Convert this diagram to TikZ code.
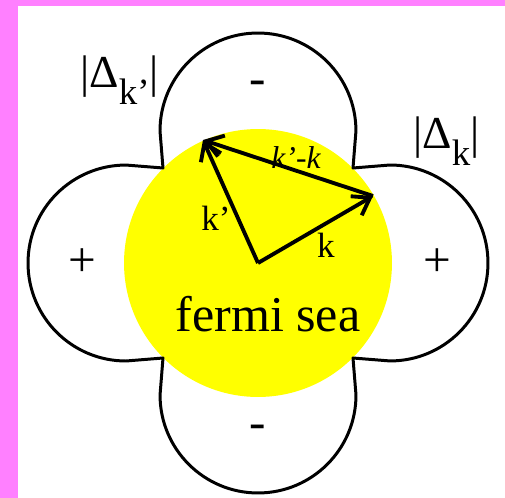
\documentclass[tikz,border=0pt]{standalone}
\usepackage{fontspec}
\setmainfont{Liberation Serif}
\usetikzlibrary{arrows.meta,positioning}
\definecolor{framepink}{RGB}{255,128,255}
\definecolor{seayellow}{RGB}{255,255,0}
\tikzset{
    % Order parameter lobes
    lobe/.style={
        draw=black,
        line width=1.7pt,
        line join=round
    },
    % Wave vectors
    vecarrow/.style={
        -{Straight Barb[length=3.2mm,width=4.4mm]},
        line width=2.2pt,
        line join=miter
    },
    % Labels
    signlabel/.style={
        font=\fontsize{28}{30}\selectfont,
        inner sep=0pt
    },
    gaplabel/.style={
        font=\fontsize{26}{28}\selectfont,
        inner sep=0pt,
        anchor=base west
    },
    veclabel/.style={
        font=\fontsize{20}{22}\selectfont,
        inner sep=0pt
    }
}
\newcommand{\gapsub}[1]{\raisebox{-10pt}{\fontsize{21}{22}\selectfont #1}}

\begin{document}
\begin{tikzpicture}[x=0.02cm,y=0.02cm]

    \useasboundingbox (-258,-235) rectangle (247,263);

    % Frame
    \fill[framepink] (-258,-235) rectangle (-240,263);
    \fill[framepink] (-258,257) rectangle (247,263);

    % Fermi sea
    \coordinate (O) at (0,0);
    \fill[seayellow] (O) circle[radius=2.68cm];

    % Lobes
    \draw[lobe] (-95,95) -- (-98,132) arc[start angle=180,end angle=0,radius=1.96cm]
        -- (95,95) -- (132,98) arc[start angle=90,end angle=-90,radius=1.96cm]
        -- (95,-95) -- (98,-132) arc[start angle=0,end angle=-180,radius=1.96cm]
        -- (-95,-95) -- (-132,-98) arc[start angle=270,end angle=90,radius=1.96cm]
        -- cycle;

    % Signs
    \node[signlabel] (plusL) at (-176,0) {+};
    \node[signlabel] (plusR) at (179,0) {+};
    \node[signlabel] (minusT) at (0,175) {-};
    \node[signlabel] (minusB) at (0,-169) {-};

    % Gap labels
    \node[gaplabel] (gapkp) at (-178,176) {|Δ\gapsub{k’}|};
    \node[gaplabel] (gapk) at (155,115) {|Δ\gapsub{k}|};

    % Vectors
    \coordinate (K) at (115,67);
    \coordinate (Kp) at (-55,123);
    \draw[vecarrow] (O) -- (K);
    \draw[vecarrow] (O) -- (Kp);
    \draw[vecarrow] (K) -- (Kp);

    \node[veclabel] (lk) at (68,18) {k};
    \node[veclabel] (lkp) at (-42,45) {k’};
    \node[veclabel, font=\fontsize{18}{20}\selectfont\itshape] (lkpk) at (38,105) {k’-k};

    \node[font=\fontsize{28.5}{30}\selectfont, anchor=base] (sea) at (10,-68) {fermi sea};

\end{tikzpicture}
\end{document}
